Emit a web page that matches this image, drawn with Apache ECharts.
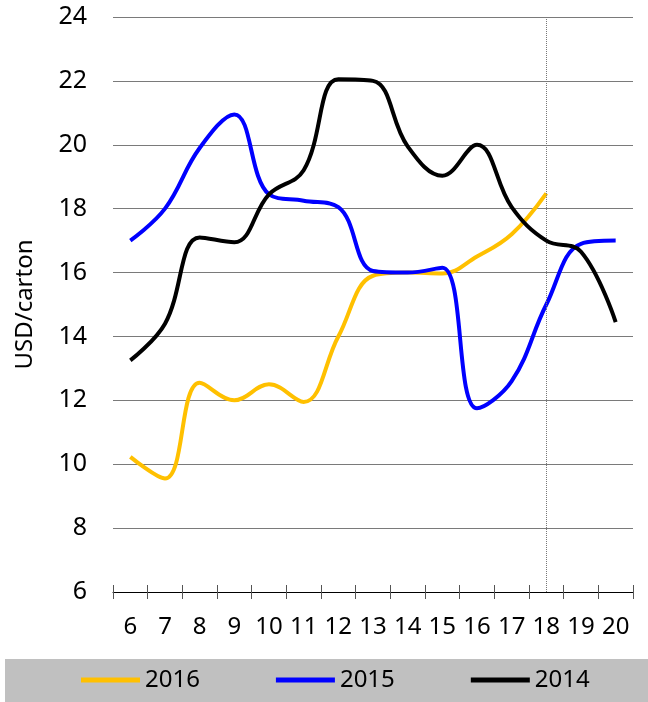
<!DOCTYPE html>
<html>
<head>
<meta charset="utf-8">
<script src="https://cdn.jsdelivr.net/npm/echarts@6/dist/echarts.min.js"></script>
<style>
  html, body { margin: 0; padding: 0; background: #fff; }
  #chart { width: 648px; height: 702px; }
</style>
</head>
<body>
<div id="chart"></div>
<script>
// weeks on x axis
const weeks = ['6', '7', '8', '9', '10', '11', '12', '13', '14', '15', '16', '17', '18', '19', '20']
// USD/carton
const y2016 = [10.23, 9.55, 12.55, 12.0, 12.5, 11.95, 14.0, 15.9, 16.0, 15.97, 16.5, 17.2, 18.48]
const y2015 = [17.0, 18.0, 19.9, 20.95, 18.45, 18.25, 18.05, 16.05, 16.0, 16.15, 11.75, 12.6, 15.0, 16.9, 17.0]
const y2014 = [13.25, 14.4, 17.1, 16.95, 18.45, 19.2, 22.05, 22.0, 19.95, 19.03, 20.0, 18.05, 17.0, 16.65, 14.45]
const markWeek = '18'

const font = 'Noto Sans'
const chart = echarts.init(document.getElementById('chart'))

const option = {
  animation: false,
  textStyle: { fontFamily: font },
  graphic: [
    {
      type: 'rect',
      z: -1,
      shape: { x: 5, y: 659, width: 643, height: 43 },
      style: { fill: '#c0c0c0' }
    }
  ],
  legend: {
    data: ['2016', '2015', '2014'],
    top: 668,
    left: 81,
    padding: 0,
    icon: 'rect',
    itemWidth: 59,
    itemHeight: 5,
    itemGap: 76,
    textStyle: { color: '#000', fontSize: 24, fontFamily: font, padding: [0, 0, 0, 0] }
  },
  grid: {
    left: 113,
    right: 15,
    top: 17,
    bottom: 110
  },
  xAxis: [
    {
      type: 'category',
      data: weeks,
      boundaryGap: true,
      axisLine: { show: true, lineStyle: { color: '#000', width: 1 } },
      axisTick: { show: true, interval: 0, length: 7, lineStyle: { color: '#555' } },
      axisLabel: { color: '#000', fontSize: 24, margin: 23, interval: 0, hideOverlap: false, fontFamily: font },
      splitLine: { show: false }
    },
    {
      type: 'category',
      data: weeks,
      position: 'bottom',
      boundaryGap: true,
      axisLine: { show: false },
      axisTick: { show: true, interval: 0, inside: true, length: 7, lineStyle: { color: '#555' } },
      axisLabel: { show: false },
      splitLine: { show: false }
    }
  ],
  yAxis: {
    type: 'value',
    min: 6,
    max: 24,
    interval: 2,
    name: 'USD/carton',
    nameLocation: 'middle',
    nameRotate: 90,
    nameGap: 76,
    nameTextStyle: { color: '#000', fontSize: 24, fontFamily: font },
    axisLine: { show: false },
    axisTick: { show: false },
    axisLabel: { color: '#000', fontSize: 25, margin: 26, fontFamily: font },
    splitLine: { lineStyle: { color: '#7a7a7a', width: 1 } }
  },
  series: [
    {
      name: '2016',
      type: 'line',
      data: y2016,
      smooth: 0.4,
      symbol: 'none',
      color: '#ffc000',
      lineStyle: { width: 4, color: '#ffc000' },
      z: 3,
      markLine: {
        silent: true,
        symbol: 'none',
        label: { show: false },
        lineStyle: { color: '#777', type: 'dotted', width: 1 },
        data: [{ xAxis: markWeek }]
      }
    },
    {
      name: '2015',
      type: 'line',
      data: y2015,
      smooth: 0.4,
      symbol: 'none',
      color: '#0000ff',
      lineStyle: { width: 4, color: '#0000ff' },
      z: 4
    },
    {
      name: '2014',
      type: 'line',
      data: y2014,
      smooth: 0.4,
      symbol: 'none',
      color: '#000',
      lineStyle: { width: 4, color: '#000' },
      z: 5
    }
  ]
}

chart.setOption(option)
</script>
</body>
</html>
